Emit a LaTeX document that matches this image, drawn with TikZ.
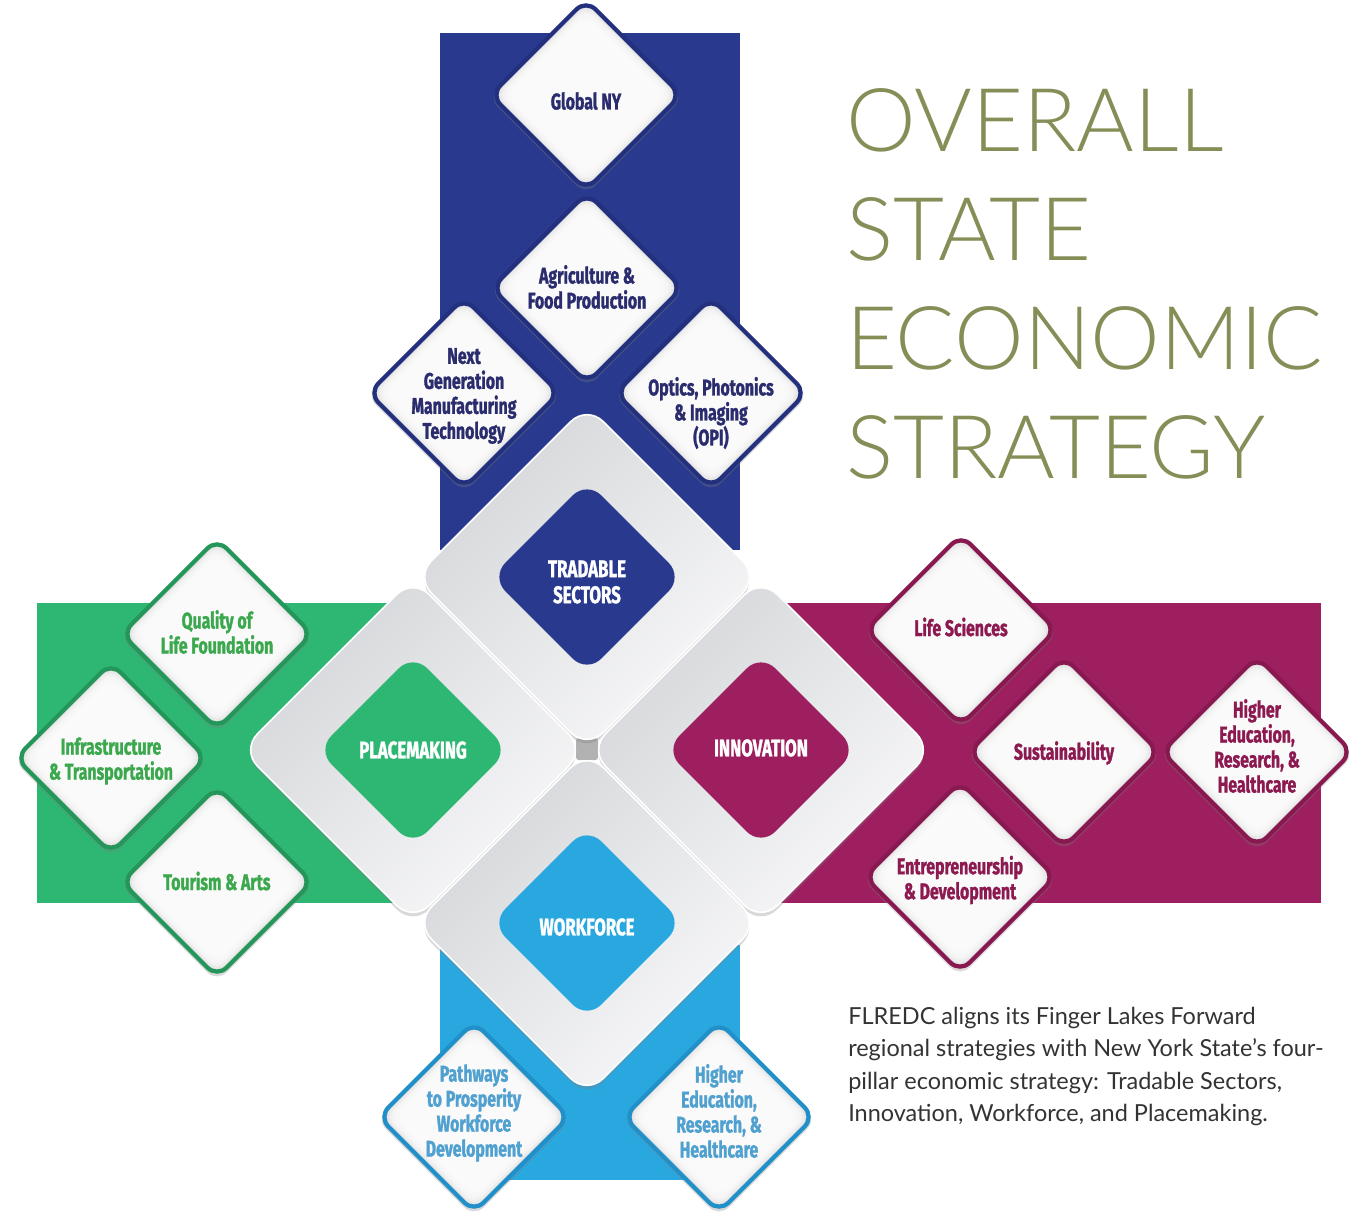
\documentclass[tikz,border=0pt]{standalone}
\usepackage{fontspec}
\setmainfont{Lato}
\newfontfamily\titlef{Lato Light}
\newfontfamily\condf{Fira Sans}[FakeStretch=0.7, BoldFeatures={FakeBold=1.3}]
\usetikzlibrary{shapes.geometric,shadows}
\definecolor{tsblue}{RGB}{40,57,142}
\definecolor{tsbord}{RGB}{35,48,125}
\definecolor{tstext}{RGB}{42,44,110}
\definecolor{pmgreen}{RGB}{46,182,115}
\definecolor{pmbord}{RGB}{36,150,90}
\definecolor{pmtext}{RGB}{60,168,78}
\definecolor{inmag}{RGB}{158,31,95}
\definecolor{inbord}{RGB}{135,25,80}
\definecolor{intext}{RGB}{140,26,80}
\definecolor{wfblue}{RGB}{41,168,224}
\definecolor{wfbord}{RGB}{34,144,200}
\definecolor{wftext}{RGB}{80,160,208}
\definecolor{olive}{RGB}{134,142,88}
\definecolor{bodygray}{RGB}{51,51,51}
\definecolor{bigdark}{RGB}{212,214,217}
\definecolor{biglight}{RGB}{248,248,249}
\tikzset{
  sdia/.style={shape=diamond, aspect=1, minimum size=144pt, inner sep=0pt,
    rounded corners=10pt, line width=3.2pt, fill=black!13,
    drop shadow={opacity=0.3, shadow xshift=0pt, shadow yshift=-1.5pt, shadow scale=1.03}},
  sglow/.style={shape=diamond, aspect=1, inner sep=0pt, rounded corners=9pt,
    fill=white, fill opacity=0.3, draw=none},
  stext/.style={font=\condf\bfseries\fontsize{17}{18.75}\selectfont, align=center, inner sep=0pt},
  bigdia/.style={shape=diamond, aspect=1, minimum size=258pt, inner sep=0pt,
    rounded corners=17pt, top color=bigdark, bottom color=biglight, shading angle=45,
    draw=white, line width=1.2pt,
    drop shadow={opacity=0.3, shadow xshift=0pt, shadow yshift=-3pt}},
  coredia/.style={shape=diamond, aspect=1, minimum size=144pt, inner sep=0pt,
    rounded corners=15pt, draw=none},
  coretext/.style={font=\condf\bfseries\fontsize{18}{19.5}\selectfont, align=center,
    text=white, inner sep=0pt},
  band/.style={draw=none},
}
% name, x, y, border colour, text colour, text y, text
\newcommand\smalld[7]{%
  \node[sdia, draw=#4] (#1) at (#2,#3) {};
  \foreach \sz in {138,135,132,129,125,120}{\node[sglow, minimum size=\sz pt] (#1g\sz) at (#1) {};}
  \node[stext, text=#5] (#1t) at (#2,#6) {#7};
}
\begin{document}
\begin{tikzpicture}[x=0.75pt,y=-0.75pt]
\useasboundingbox (0,0) rectangle (1371,1215);
% bands
\fill[band, tsblue] (440,33) rectangle (740,550);
\fill[band, pmgreen] (37,603) rectangle (400,903);
\fill[band, inmag] (780,603) rectangle (1321,903);
\fill[band, wfblue] (440,945) rectangle (740,1180);
% center gap
\fill[black!30, rounded corners=2pt] (576,738) rectangle (598,760);
% big diamonds
\node[bigdia] (tsbig) at (587,577) {};
\node[bigdia] (pmbig) at (413,750) {};
\node[bigdia] (inbig) at (761,750) {};
\node[bigdia] (wfbig) at (587,923) {};
% core diamonds
\node[coredia, fill=tsblue] (tscore) at (587,577) {};
\node[coredia, fill=pmgreen] (pmcore) at (413,750) {};
\node[coredia, fill=inmag] (incore) at (761,750) {};
\node[coredia, fill=wfblue] (wfcore) at (587,923) {};
\node[coretext] (tslab) at (587,582) {TRADABLE\\SECTORS};
\node[coretext] (pmlab) at (pmcore) {PLACEMAKING};
\node[coretext] (inlab) at (761,748) {INNOVATION};
\node[coretext] (wflab) at (587,927) {WORKFORCE};
% tradable sectors
\smalld{gny}{586}{95}{tsbord}{tstext}{101}{Global NY}
\smalld{agr}{587}{288}{tsbord}{tstext}{287}{Agriculture \&\\Food Production}
\smalld{ngm}{464}{393}{tsbord}{tstext}{396}{Next\\Generation\\Manufacturing\\Technology}
\smalld{opi}{711}{393}{tsbord}{tstext}{413}{Optics, Photonics\\\& Imaging\\(OPI)}
% placemaking
\smalld{qol}{217}{634}{pmbord}{pmtext}{632}{Quality of\\Life Foundation}
\smalld{inf}{111}{758}{pmbord}{pmtext}{761}{Infrastructure\\\& Transportation}
\smalld{tou}{217}{882}{pmbord}{pmtext}{881}{Tourism \& Arts}
% innovation
\smalld{lsc}{961}{630}{inbord}{intext}{627}{Life Sciences}
\smalld{sus}{1064}{752}{inbord}{intext}{753}{Sustainability}
\smalld{hei}{1257}{752}{inbord}{intext}{746}{Higher\\Education,\\Research, \&\\Healthcare}
\smalld{ent}{960}{877}{inbord}{intext}{880}{Entrepreneurship\\\& Development}
% workforce
\smalld{ptp}{474}{1117}{wfbord}{wftext}{1113}{Pathways\\to Prosperity\\Workforce\\Development}
\smalld{hew}{719}{1117}{wfbord}{wftext}{1111}{Higher\\Education,\\Research, \&\\Healthcare}
% title
\node[anchor=north west, inner sep=0pt, align=left, text=olive,
  font=\titlef\fontsize{66}{81.75}\selectfont] (title) at (846,88)
  {OVERALL\\STATE\\ECONOMIC\\STRATEGY};
% body
\node[anchor=north west, inner sep=0pt, align=left, text=bodygray,
  font=\fontsize{17.6}{24.3}\selectfont] (body) at (848,1007)
  {FLREDC aligns its Finger Lakes Forward\\regional strategies with New York State’s four-\\pillar economic strategy: Tradable Sectors,\\Innovation, Workforce, and Placemaking.};
\end{tikzpicture}
\end{document}
